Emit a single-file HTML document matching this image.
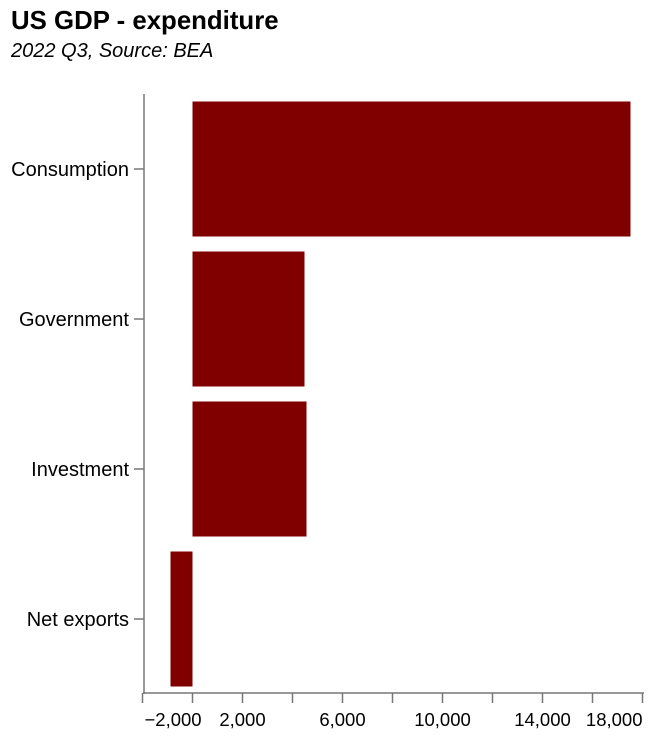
<!DOCTYPE html>
<html><head><meta charset="utf-8"><style>
body{margin:0;background:#fff;font-family:"Liberation Sans",Arial,sans-serif}
</style></head><body>
<svg id="chart" width="654" height="738">
<text x="11" y="29" font-size="25.8" font-weight="bold" fill="#000">US GDP - expenditure</text>
<text x="11" y="57" font-size="20" font-style="italic" fill="#000">2022 Q3, Source: BEA</text>
<g id="plot"></g>
</svg>
<script>
const categories=["Consumption","Government","Investment","Net exports"];
const values=[17520,4480,4560,-880];
const tickValues=[-2000,0,2000,4000,6000,8000,10000,12000,14000,16000,18000];
const tickLabels=["−2,000","","2,000","","6,000","","10,000","","14,000","","18,000"];
const NS="http://www.w3.org/2000/svg";
const g=document.getElementById('plot');
const x0=142.5,x1=642.5,dMin=-2000,dMax=18000;
const X=v=>x0+(v-dMin)/(dMax-dMin)*(x1-x0);
const yTop=94,band=150,pad=7.5;
const Y=i=>yTop+i*band;
function el(t,a){const e=document.createElementNS(NS,t);for(const k in a)e.setAttribute(k,a[k]);g.appendChild(e);return e;}
categories.forEach((c,i)=>{
  const v=values[i];
  const r=el('rect',{x:Math.min(X(0),X(v)),y:Y(i)+pad,width:Math.abs(X(v)-X(0)),height:band-2*pad,fill:'#800000'});
  
  
  const cy=Y(i)+band/2;
  const tk=el('line',{x1:134,x2:144,y1:cy,y2:cy,stroke:'#777','stroke-width':1.5});
  
  
  const t=el('text',{x:129,y:cy+7,'text-anchor':'end','font-size':20,fill:'#000'});
  t.textContent=c;
  
  
});
const ya=el('line',{x1:144,x2:144,y1:yTop,y2:694,stroke:'#777','stroke-width':1.5});


const xa=el('line',{x1:143,x2:644,y1:693,y2:693,stroke:'#777','stroke-width':1.5});


tickValues.forEach((v,i)=>{
  const x=X(v);
  const tk=el('line',{x1:x,x2:x,y1:693,y2:703,stroke:'#777','stroke-width':1.5});
  
  
  if(tickLabels[i]){
    let anchor='middle',tx=x;
    if(i===0){anchor='start';tx=x+2;}
    if(i===tickValues.length-1){anchor='end';tx=x;}
    const t=el('text',{x:tx,y:726,'text-anchor':anchor,'font-size':18.5,fill:'#000'});
    t.textContent=tickLabels[i];
    
    
  }
});
</script>
</body></html>
